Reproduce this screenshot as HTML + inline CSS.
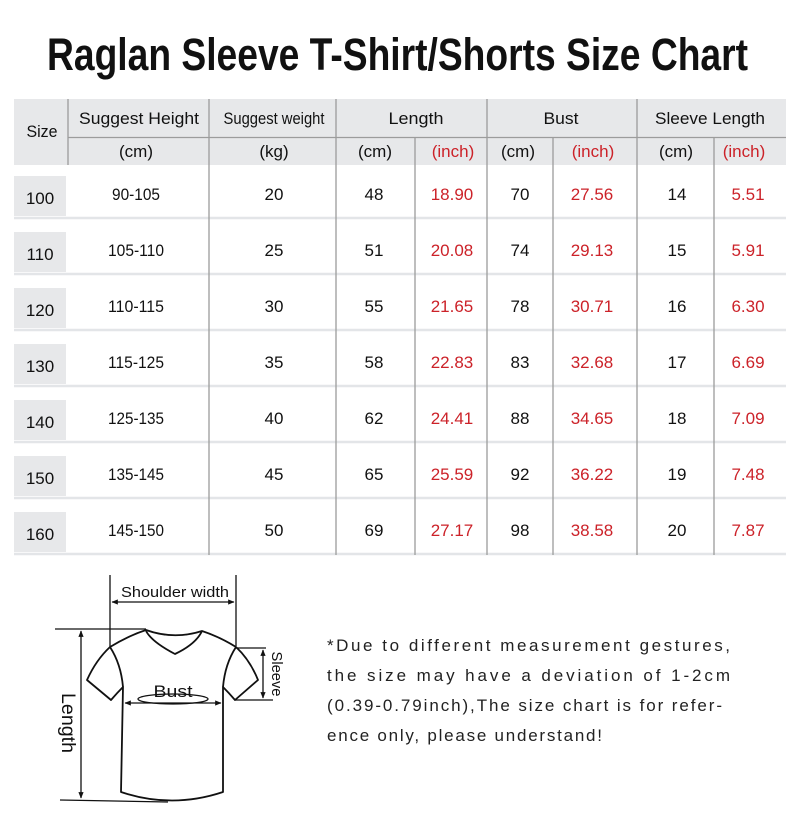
<!DOCTYPE html>
<html><head><meta charset="utf-8"><style>
html,body{margin:0;padding:0;background:#fff;}
svg{display:block;}
text{font-family:"Liberation Sans",sans-serif;fill:#111;}
.r{fill:#cc2229;}
.h{font-size:17px;}
.d{font-size:17px;}
</style></head><body>
<svg width="794" height="819" viewBox="0 0 794 819" xmlns="http://www.w3.org/2000/svg">
<defs>
<marker id="ah" viewBox="0 0 10 10" refX="9" refY="5" markerWidth="5" markerHeight="5" orient="auto-start-reverse"><path d="M0,1 L10,5 L0,9 z" fill="#111"/></marker>
</defs>
<rect width="794" height="819" fill="#fff"/>
<!-- Title -->
<text x="47" y="70" font-size="45" font-weight="bold" textLength="701" lengthAdjust="spacingAndGlyphs">Raglan Sleeve T-Shirt/Shorts Size Chart</text>

<!-- header bg -->
<rect x="14" y="99" width="772" height="66" fill="#e7e8ea"/>
<!-- row separators -->
<g stroke="#e3e5e8" stroke-width="2.5">
<line x1="14" y1="218" x2="786" y2="218"/>
<line x1="14" y1="274" x2="786" y2="274"/>
<line x1="14" y1="330" x2="786" y2="330"/>
<line x1="14" y1="386" x2="786" y2="386"/>
<line x1="14" y1="442" x2="786" y2="442"/>
<line x1="14" y1="498" x2="786" y2="498"/>
<line x1="14" y1="554" x2="786" y2="554"/>
</g>
<!-- size cells -->
<g fill="#e7e8ea">
<rect x="14" y="176" width="52" height="40"/>
<rect x="14" y="232" width="52" height="40"/>
<rect x="14" y="288" width="52" height="40"/>
<rect x="14" y="344" width="52" height="40"/>
<rect x="14" y="400" width="52" height="40"/>
<rect x="14" y="456" width="52" height="40"/>
<rect x="14" y="512" width="52" height="40"/>
</g>
<!-- grid lines -->
<g stroke="#9c9c9c" stroke-width="1.3">
<line x1="68" y1="137.5" x2="786" y2="137.5"/>
<line x1="68" y1="99" x2="68" y2="165"/>
<line x1="209" y1="99" x2="209" y2="555"/>
<line x1="336" y1="99" x2="336" y2="555"/>
<line x1="415" y1="137" x2="415" y2="555"/>
<line x1="487" y1="99" x2="487" y2="555"/>
<line x1="553" y1="137" x2="553" y2="555"/>
<line x1="637" y1="99" x2="637" y2="555"/>
<line x1="714" y1="137" x2="714" y2="555"/>
</g>

<!-- header text -->
<g class="h" text-anchor="middle">
<text x="42" y="137" textLength="31" lengthAdjust="spacingAndGlyphs">Size</text>
<text x="139" y="124" textLength="120" lengthAdjust="spacingAndGlyphs">Suggest Height</text>
<text x="274" y="124" textLength="101" lengthAdjust="spacingAndGlyphs">Suggest weight</text>
<text x="416" y="124" textLength="55" lengthAdjust="spacingAndGlyphs">Length</text>
<text x="561" y="124" textLength="35" lengthAdjust="spacingAndGlyphs">Bust</text>
<text x="710" y="124" textLength="110" lengthAdjust="spacingAndGlyphs">Sleeve Length</text>
<text x="136" y="157">(cm)</text>
<text x="274" y="157">(kg)</text>
<text x="375" y="157">(cm)</text>
<text x="453" y="157" class="r">(inch)</text>
<text x="518" y="157">(cm)</text>
<text x="593" y="157" class="r">(inch)</text>
<text x="676" y="157">(cm)</text>
<text x="744" y="157" class="r">(inch)</text>
</g>

<!-- data -->
<g class="d" text-anchor="middle">
<text x="40" y="204">100</text><text x="136" y="200" textLength="48" lengthAdjust="spacingAndGlyphs">90-105</text><text x="274" y="200">20</text><text x="374" y="200">48</text><text x="452" y="200" class="r">18.90</text><text x="520" y="200">70</text><text x="592" y="200" class="r">27.56</text><text x="677" y="200">14</text><text x="748" y="200" class="r">5.51</text>
<text x="40" y="260">110</text><text x="136" y="256" textLength="56" lengthAdjust="spacingAndGlyphs">105-110</text><text x="274" y="256">25</text><text x="374" y="256">51</text><text x="452" y="256" class="r">20.08</text><text x="520" y="256">74</text><text x="592" y="256" class="r">29.13</text><text x="677" y="256">15</text><text x="748" y="256" class="r">5.91</text>
<text x="40" y="316">120</text><text x="136" y="312" textLength="56" lengthAdjust="spacingAndGlyphs">110-115</text><text x="274" y="312">30</text><text x="374" y="312">55</text><text x="452" y="312" class="r">21.65</text><text x="520" y="312">78</text><text x="592" y="312" class="r">30.71</text><text x="677" y="312">16</text><text x="748" y="312" class="r">6.30</text>
<text x="40" y="372">130</text><text x="136" y="368" textLength="56" lengthAdjust="spacingAndGlyphs">115-125</text><text x="274" y="368">35</text><text x="374" y="368">58</text><text x="452" y="368" class="r">22.83</text><text x="520" y="368">83</text><text x="592" y="368" class="r">32.68</text><text x="677" y="368">17</text><text x="748" y="368" class="r">6.69</text>
<text x="40" y="428">140</text><text x="136" y="424" textLength="56" lengthAdjust="spacingAndGlyphs">125-135</text><text x="274" y="424">40</text><text x="374" y="424">62</text><text x="452" y="424" class="r">24.41</text><text x="520" y="424">88</text><text x="592" y="424" class="r">34.65</text><text x="677" y="424">18</text><text x="748" y="424" class="r">7.09</text>
<text x="40" y="484">150</text><text x="136" y="480" textLength="56" lengthAdjust="spacingAndGlyphs">135-145</text><text x="274" y="480">45</text><text x="374" y="480">65</text><text x="452" y="480" class="r">25.59</text><text x="520" y="480">92</text><text x="592" y="480" class="r">36.22</text><text x="677" y="480">19</text><text x="748" y="480" class="r">7.48</text>
<text x="40" y="540">160</text><text x="136" y="536" textLength="56" lengthAdjust="spacingAndGlyphs">145-150</text><text x="274" y="536">50</text><text x="374" y="536">69</text><text x="452" y="536" class="r">27.17</text><text x="520" y="536">98</text><text x="592" y="536" class="r">38.58</text><text x="677" y="536">20</text><text x="748" y="536" class="r">7.87</text>
</g>

<!-- T-shirt diagram -->
<g fill="none" stroke="#111" stroke-width="1.8" stroke-linejoin="round">
<path d="M146,630 Q128,636 110,647 Q96,660 87,680 L111,700 Q117,693 123,687 L121,792 Q172,809 223,792 L223,687 Q229,693 235,700 L258,680 Q250,660 236,647 Q220,637 202,631 Q174,640 146,630 Z"/>
<path d="M146,631 Q152,642 175,654 Q196,644 202,631"/>
<path d="M110,647 Q121,664 123,687"/>
<path d="M236,647 Q225,664 223,687"/>
</g>
<g stroke="#111" stroke-width="1.3" fill="none">
<line x1="110" y1="575" x2="110" y2="647"/>
<line x1="236" y1="575" x2="236" y2="646"/>
<line x1="112" y1="602" x2="234" y2="602" marker-start="url(#ah)" marker-end="url(#ah)"/>
<line x1="55" y1="629" x2="146" y2="629"/>
<line x1="60" y1="800" x2="168" y2="802"/>
<line x1="81" y1="631" x2="81" y2="798" marker-start="url(#ah)" marker-end="url(#ah)"/>
<line x1="236" y1="648" x2="266" y2="648"/>
<line x1="235" y1="700" x2="273" y2="700"/>
<line x1="263" y1="650" x2="263" y2="698" marker-start="url(#ah)" marker-end="url(#ah)"/>
<line x1="125" y1="703" x2="221" y2="703" marker-start="url(#ah)" marker-end="url(#ah)"/>
<ellipse cx="173" cy="699" rx="35" ry="5"/>
</g>
<text x="175" y="597" font-size="15" text-anchor="middle" textLength="108" lengthAdjust="spacingAndGlyphs">Shoulder width</text>
<text x="173" y="697" font-size="17" text-anchor="middle" textLength="39" lengthAdjust="spacingAndGlyphs">Bust</text>
<text transform="translate(62,723) rotate(90)" font-size="19" text-anchor="middle" textLength="60" lengthAdjust="spacingAndGlyphs">Length</text>
<text transform="translate(272,674) rotate(90)" font-size="15" text-anchor="middle" textLength="45" lengthAdjust="spacingAndGlyphs">Sleeve</text>

<!-- note -->
<g font-size="17">
<text x="327" y="651" textLength="403" lengthAdjust="spacing" style="fill:#222">*Due to different measurement gestures,</text>
<text x="327" y="681" textLength="403" lengthAdjust="spacing" style="fill:#222">the size may have a deviation of 1-2cm</text>
<text x="327" y="711" textLength="395" lengthAdjust="spacing" style="fill:#222">(0.39-0.79inch),The size chart is for refer-</text>
<text x="327" y="741" textLength="275" lengthAdjust="spacing" style="fill:#222">ence only, please understand!</text>
</g>
</svg>
</body></html>
